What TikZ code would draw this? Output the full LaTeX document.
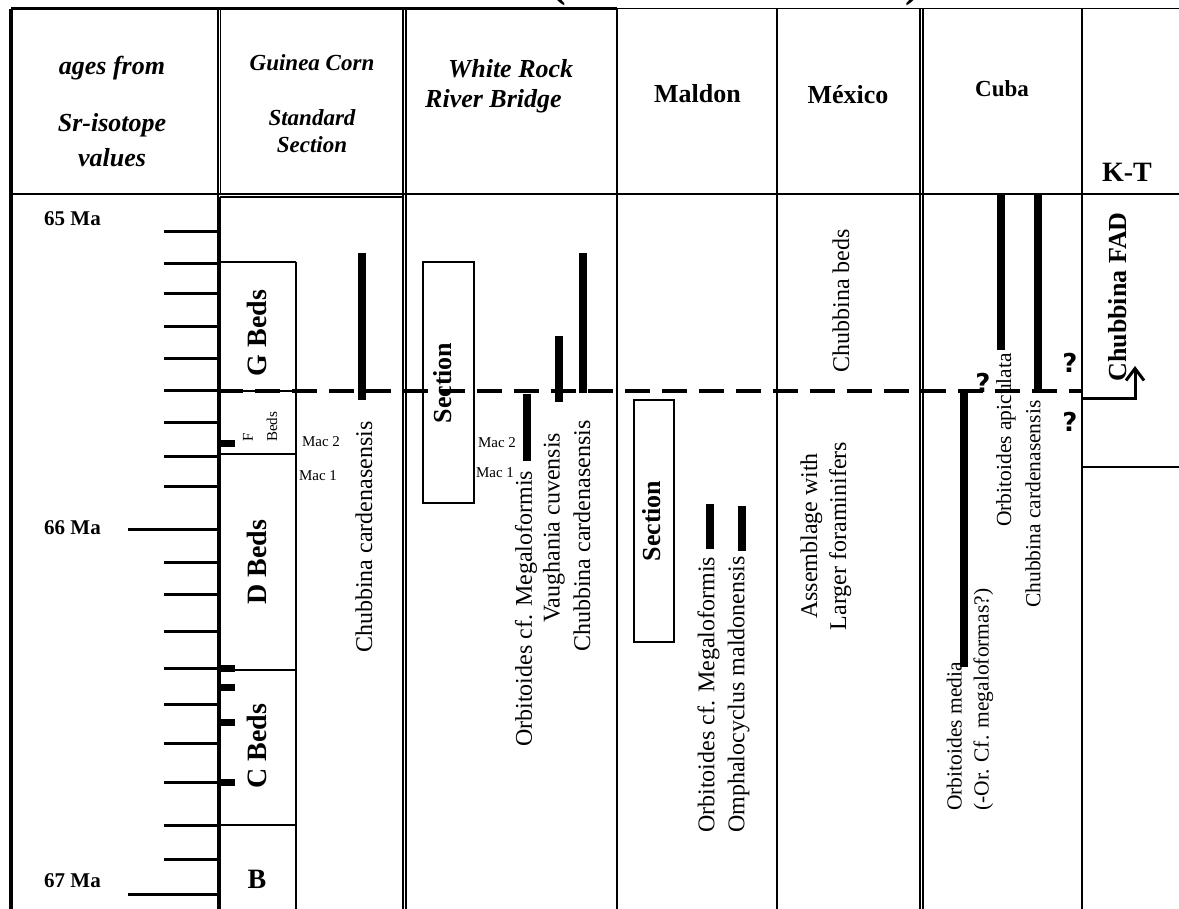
\documentclass[tikz,border=0pt]{standalone}
\usepackage{fontspec}
\setmainfont{Liberation Serif}
\newfontfamily\qfont{DejaVu Sans}
\usepackage{tikz}
\usetikzlibrary{arrows.meta}
\def\rangebar#1#2#3{\draw[rangebar] (#1,#2) -- (#1,#3)}
\tikzstyle{frame}=[line width=1.2pt]
\tikzstyle{hdr}=[align=center,inner sep=0pt,font=\fontsize{26}{35}\selectfont\bfseries\itshape]
\tikzstyle{site}=[anchor=base,inner sep=0pt,font=\fontsize{26}{30}\selectfont\bfseries]
\tikzstyle{agelabel}=[anchor=base west,inner sep=0pt,font=\fontsize{21}{25}\selectfont\bfseries]
\tikzstyle{agetick}=[line width=3pt]
\tikzstyle{bed}=[rotate=90,inner sep=0pt,font=\fontsize{28}{32}\selectfont\bfseries]
\tikzstyle{taxon}=[rotate=90,anchor=west,align=left,inner sep=0pt,font=\fontsize{24}{30}\selectfont]
\tikzstyle{cubataxon}=[taxon,font=\fontsize{21.5}{27}\selectfont]
\tikzstyle{mac}=[inner sep=0pt,font=\fontsize{15}{18}\selectfont]
\tikzstyle{rangebar}=[line width=7.5pt]
\tikzstyle{query}=[inner sep=0pt,font=\qfont\bfseries\fontsize{26}{30}\selectfont]
\tikzstyle{boundary}=[line width=3.5pt,dash pattern=on 25pt off 12pt]
\begin{document}
\begin{tikzpicture}[x=1pt,y=-1pt]
  \useasboundingbox (0,0) rectangle (1179,909);
  \clip (0,0) rectangle (1179,909);
  % frame and columns
  \draw[line width=3.5pt] (11,9) -- (11,909);
  \draw[line width=3pt] (11,9) -- (617,9);
  \draw[frame] (617,8.5) -- (1179,8.5);
  \draw[frame] (11,194) -- (1179,194);
  \foreach \x in {218,403,406,920,923,1082} \draw[frame] (\x,9) -- (\x,909);
  \draw[frame] (220.5,9) -- (220.5,194);
  \draw[line width=2pt] (617,9) -- (617,909);
  \draw[line width=1.5pt] (777,9) -- (777,909);
  \draw[frame] (1082,467) -- (1179,467);
  % cut-off title
  \node[font=\fontsize{44}{44}\selectfont\bfseries,anchor=base] (lpar) at (559,-3) {(};
  \node[font=\fontsize{44}{44}\selectfont\bfseries,anchor=base] (rpar) at (913,-3) {)};
  % headers
  \node[hdr] (ages) at (112,112) {ages from\\[22pt]Sr-isotope\\values};
  \node[hdr,font=\fontsize{23}{27}\selectfont\bfseries\itshape] (guinea) at (312,104) {Guinea Corn\\[28pt]Standard\\Section};
  \node[hdr,align=left,anchor=north west] (whiterock) at (425,59) {\hspace*{23pt}White Rock\\[-5pt]River Bridge};
  \node[site] (maldon) at (697.5,103) {Maldon};
  \node[site] (mexico) at (848,104) {México};
  \node[site,font=\fontsize{23}{27}\selectfont\bfseries] (cuba) at (1002,97) {Cuba};
  \node[site,font=\fontsize{28}{32}\selectfont\bfseries] (kt) at (1127,182) {K-T};
  % age scale
  \foreach \y in {232,264,294,327,359,391,423,456,486,562,594,631,668,704,743,782,825,859}
    \draw[agetick] (164,\y) -- (218,\y);
  \foreach \y in {529,894} \draw[agetick] (128,\y) -- (218,\y);
  \node[agelabel] (ma65) at (44,226) {65 Ma};
  \node[agelabel] (ma66) at (44,534) {66 Ma};
  \node[agelabel] (ma67) at (44,887) {67 Ma};
  % Guinea Corn beds
  \draw[frame] (220,197) -- (403,197);
  \draw[frame] (220,197) -- (220,909);
  \draw[frame] (296,262) -- (296,909);
  \foreach \y in {262,391,454,670,825} \draw[frame] (220,\y) -- (296,\y);
  \foreach \y in {443.5,668,687,722,782} \fill (220,\y-3.5) rectangle (235,\y+3.5);
  \node[bed] (gbeds) at (257,333) {G Beds};
  \node[bed] (dbeds) at (257,562) {D Beds};
  \node[bed] (cbeds) at (257,746) {C Beds};
  \node[bed,rotate=-90] (bbed) at (257,879) {B};
  \node[mac,rotate=90] (fbed) at (248,437) {F};
  \node[mac,rotate=90] (fbeds) at (272,427) {Beds};
  \node[mac] (gmac2) at (321,442) {Mac 2};
  \node[mac] (gmac1) at (318,476) {Mac 1};
  \rangebar{362}{253}{400};
  \node[taxon] (gchub) at (364,653) {Chubbina cardenasensis};
  % White Rock River Bridge
  \draw[frame] (423,262) rectangle (474,503);
  \node[bed,font=\fontsize{26}{30}\selectfont\bfseries] (wsection) at (443,383) {Section};
  \node[mac] (wmac2) at (497,443) {Mac 2};
  \node[mac] (wmac1) at (495,473) {Mac 1};
  \rangebar{527}{394}{461};
  \rangebar{559}{336}{402};
  \rangebar{583}{253}{393};
  \node[taxon] (worbi) at (526,747) {Orbitoides cf. Megaloformis};
  \node[taxon] (wvaug) at (554,623) {Vaughania cuvensis};
  \node[taxon] (wchub) at (582,652) {Chubbina cardenasensis};
  % Maldon
  \draw[frame] (634,400) rectangle (674,642);
  \node[bed,font=\fontsize{26}{30}\selectfont\bfseries] (msection) at (652,521) {Section};
  \rangebar{710}{504}{549};
  \rangebar{742}{506}{551};
  \node[taxon] (morbi) at (723.5,833) {Orbitoides cf. Megaloformis\\Omphalocyclus maldonensis};
  % Mexico
  \node[taxon,anchor=center] (xchub) at (841,301) {Chubbina beds};
  \node[taxon,anchor=center,align=center,font=\fontsize{24}{29}\selectfont] (xassem) at (826,536) {Assemblage with\\Larger foraminifers};
  % Cuba
  \rangebar{1001}{195}{350};
  \rangebar{1038}{193}{392};
  \rangebar{964}{390}{667};
  \node[cubataxon] (corbi) at (1006,527) {Orbitoides apiculata};
  \node[cubataxon] (cchub) at (1033,608) {Chubbina cardenasensis};
  \node[cubataxon] (cmedia) at (970,811) {Orbitoides media\\(-Or. Cf. megaloformas?)};
  \node[query] (q1) at (983,383) {?};
  \node[query] (q2) at (1070,363) {?};
  \node[query] (q3) at (1070,422) {?};
  % K-T boundary
  \draw[boundary] (218,391) -- (1082,391);
  \node[bed,font=\fontsize{26}{30}\selectfont\bfseries] (fad) at (1118,297) {Chubbina FAD};
  \coordinate (ktfoot) at (1082,399);
  \coordinate (fadfoot) at (1135,366);
  \draw[line width=3pt,-{Straight Barb[length=12pt,width=18pt]}] (ktfoot) -| (fadfoot);
\end{tikzpicture}
\end{document}
